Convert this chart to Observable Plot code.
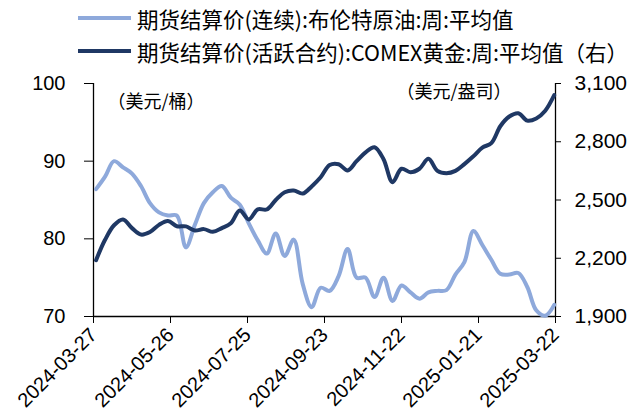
<!DOCTYPE html>
<html><head><meta charset="utf-8">
<script src="https://cdn.jsdelivr.net/npm/d3@7"></script>
<script src="https://cdn.jsdelivr.net/npm/@observablehq/plot@0.6"></script>
<style>
body{margin:0;background:#fff;}
#wrap{position:relative;width:642px;height:418px;overflow:hidden;background:#fff}
#legend{position:relative;height:66px;font-family:"Noto Sans CJK SC",sans-serif;font-size:21.5px;color:#000}
.row{position:absolute;left:78px;display:flex;align-items:center;height:28px;white-space:nowrap}
.sw{width:53px;height:4px;margin-right:6px}
#chart svg{display:block}
</style></head><body>
<div id="wrap"><div id="legend"></div><div id="chart"></div></div>
<script>
// ---- data ----
const seriesNames = ["期货结算价(连续):布伦特原油:周:平均值", "期货结算价(活跃合约):COMEX黄金:周:平均值（右）"];
const seriesColors = ["#8EA9DB", "#1F3864"];
const unitLabels = ["（美元/桶）", "（美元/盎司）"];
const firstWeek = "2024-03-29";
const brent = [86.4,88.0,90.0,89.2,88.4,86.8,84.6,83.4,83.0,83.0,78.9,81.8,84.6,86.0,86.8,85.3,84.4,82.0,79.8,78.1,80.7,77.8,79.9,74.2,71.2,73.7,73.3,75.2,78.7,75.0,75.0,72.5,75.0,72.0,74.0,73.1,72.3,73.1,73.3,73.4,75.4,77.0,81.0,79.2,77.3,75.5,75.4,75.6,73.8,70.8,70.1,71.5];
const gold = [2190,2295,2370,2400,2355,2322,2335,2372,2392,2365,2364,2343,2350,2336,2355,2380,2446,2400,2452,2451,2500,2540,2549,2533,2570,2617,2680,2684,2652,2700,2745,2772,2710,2592,2661,2643,2661,2712,2650,2638,2650,2685,2725,2770,2793,2880,2930,2947,2909,2920,2960,3040];
const xTickLabels = ["2024-03-27","2024-05-26","2024-07-25","2024-09-23","2024-11-22","2025-01-21","2025-03-22"];
const leftTicks = [70,80,90,100];
const rightTicks = [1900,2200,2500,2800,3100];
const leftDomain = [70,100];
const rightDomain = [1900,3100];

// ---- build ----
const parse = d3.utcParse("%Y-%m-%d");
const start = parse(firstWeek);
const dates = brent.map((_, i) => d3.utcDay.offset(start, 7 * i));
const k = (rightDomain[1] - rightDomain[0]) / (leftDomain[1] - leftDomain[0]);
const toLeft = g => leftDomain[0] + (g - rightDomain[0]) / k;
const data = dates.map((d, i) => ({date: d, brent: brent[i], gold: toLeft(gold[i])}));
const xTicks = xTickLabels.map(parse);
const x0 = xTicks[0], x1 = xTicks[xTicks.length - 1];

// legend
const leg = document.getElementById("legend");
[[0, 4], [1, 37]].forEach(([i, top]) => {
  const r = document.createElement("div");
  r.className = "row"; r.style.top = top + "px";
  r.innerHTML = `<span class="sw" style="background:${seriesColors[i]}"></span><span>${seriesNames[i]}</span>`;
  leg.appendChild(r);
});

const chart = Plot.plot({
  width: 642, height: 352,
  marginTop: 17, marginBottom: 102, marginLeft: 93, marginRight: 87,
  style: {fontSize: "20px", fontFamily: "'Liberation Sans', Arial, sans-serif", color: "#000", background: "#fff", overflow: "visible"},
  x: {type: "utc", domain: [x0, x1]},
  y: {domain: leftDomain},
  marks: [
    Plot.axisX({ticks: xTicks, tickFormat: d3.utcFormat("%Y-%m-%d"), tickRotate: -45, tickSize: 7, tickPadding: 8, label: null}),
    Plot.axisY({ticks: leftTicks, tickSize: 9, tickPadding: 19, label: null}),
    Plot.axisY({anchor: "right", ticks: rightTicks.map(toLeft), tickFormat: v => d3.format(",")(Math.round(rightDomain[0] + (v - leftDomain[0]) * k)), tickSize: 5, tickPadding: 14, label: null, fontSize: 21}),
    Plot.ruleX([x0, x1], {stroke: "#000", strokeWidth: 1.3}),
    Plot.ruleY([leftDomain[0]], {stroke: "#000", strokeWidth: 1.3}),
    Plot.lineY(data, {x: "date", y: "brent", stroke: seriesColors[0], strokeWidth: 4, curve: "catmull-rom"}),
    Plot.lineY(data, {x: "date", y: "gold", stroke: seriesColors[1], strokeWidth: 4, curve: "catmull-rom"}),
    Plot.text([unitLabels[0]], {text: d => d, frameAnchor: "top-left", textAnchor: "start", dx: 14, dy: 12, fontSize: 18, fontFamily: "'Noto Sans CJK SC', sans-serif"}),
    Plot.text([unitLabels[1]], {text: d => d, frameAnchor: "top-right", textAnchor: "end", dx: -44, dy: 2, fontSize: 18, fontFamily: "'Noto Sans CJK SC', sans-serif"})
  ]
});
document.getElementById("chart").appendChild(chart);
</script>
</body></html>
